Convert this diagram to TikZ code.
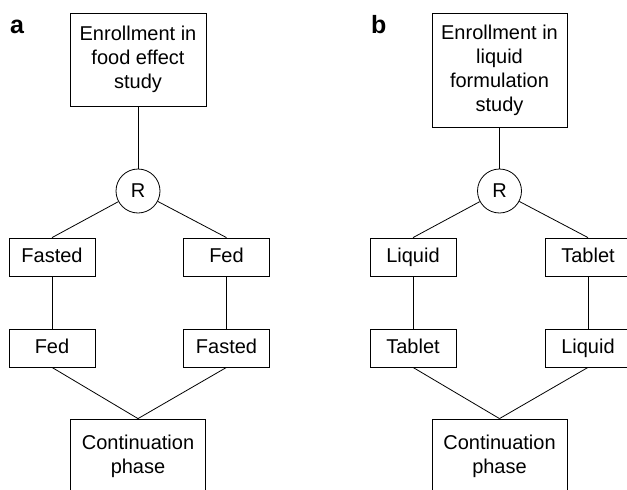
\documentclass[tikz,border=0pt]{standalone}
\usepackage{fontspec}
\setmainfont{Liberation Sans}
\tikzset{
    flowbox/.style={draw, line width=0.8pt, inner sep=0pt, align=center,
        font=\fontsize{20}{24}\selectfont},
    armbox/.style={flowbox, minimum width=86pt, minimum height=38pt, text height=14.5pt, text depth=4pt},
    randnode/.style={circle, draw, line width=0.8pt, minimum size=44pt, inner sep=0pt,
        font=\fontsize{20}{24}\selectfont},
    panel/.style={anchor=base west, inner sep=0pt, font=\fontsize{25}{30}\selectfont\bfseries}
}
\begin{document}
\begin{tikzpicture}[x=1pt,y=-1pt]
        \clip (0,0) rectangle (627,490);
        % panel a
        \node[panel] (la) at (10,33) {a};
        \node[flowbox, minimum width=136pt, minimum height=93pt] (enra) at (138,59.5) {Enrollment in\\food effect\\study};
        \node[randnode] (ra) at (138,191) {R};
        \node[armbox] (a1) at (52,257) {Fasted};
        \node[armbox] (a2) at (226.5,257) {Fed};
        \node[armbox] (a3) at (52,348) {Fed};
        \node[armbox] (a4) at (226.5,348) {Fasted};
        \node[flowbox, minimum width=135pt, minimum height=74pt] (conta) at (138,456) {Continuation\\phase};
        % panel b
        \node[panel] (lb) at (371,33) {b};
        \node[flowbox, minimum width=135pt, minimum height=114pt] (enrb) at (499.5,70) {Enrollment in\\liquid\\formulation\\study};
        \node[randnode] (rb) at (499.5,191) {R};
        \node[armbox] (b1) at (413,257) {Liquid};
        \node[armbox] (b2) at (588,257) {Tablet};
        \node[armbox] (b3) at (413,348) {Tablet};
        \node[armbox] (b4) at (588,348) {Liquid};
        \node[flowbox, minimum width=135pt, minimum height=74pt] (contb) at (499.5,456) {Continuation\\phase};
        \begin{scope}[every edge/.style={draw,line width=0.8pt}]
            \path
                (enra) edge (ra)
                (ra) edge (a1.north)
                (ra) edge (a2.north)
                (a1) edge (a3)
                (a2) edge (a4)
                (a3.south) edge (conta.north)
                (a4.south) edge (conta.north)
                (enrb) edge (rb)
                (rb) edge (b1.north)
                (rb) edge (b2.north)
                (b1) edge (b3)
                (b2) edge (b4)
                (b3.south) edge (contb.north)
                (b4.south) edge (contb.north);
        \end{scope}
    \end{tikzpicture}
\end{document}
